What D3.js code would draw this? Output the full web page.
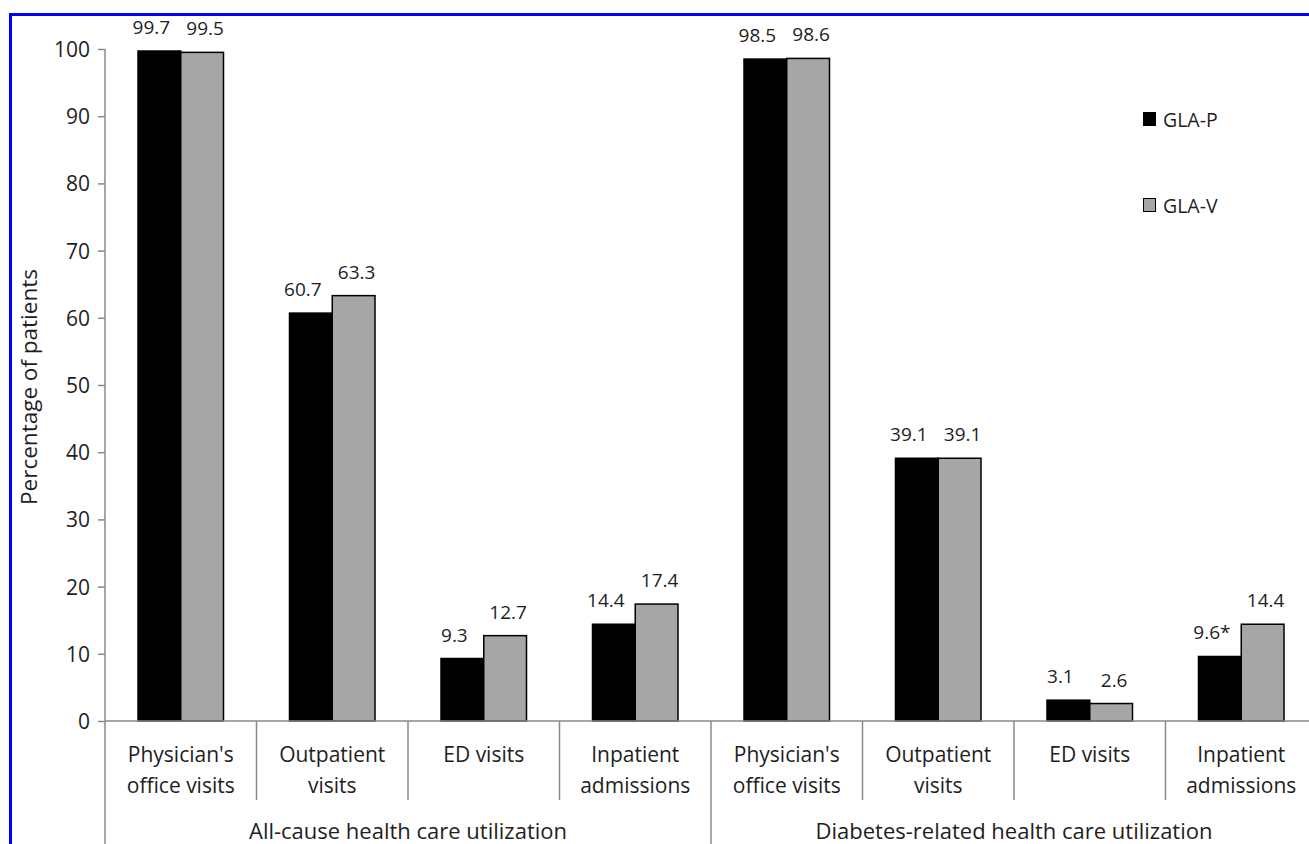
<!DOCTYPE html>
<html>
<head>
<meta charset="utf-8">
<script src="https://cdnjs.cloudflare.com/ajax/libs/d3/7.8.5/d3.min.js"></script>
<style>
  html, body { margin: 0; padding: 0; background: #fff; }
  svg { display: block; font-family: "Open Sans", Lato, sans-serif; }
</style>
</head>
<body>
<svg id="chart" width="1309" height="844"></svg>
<script>
// Health care utilization by category, two cohorts
const groups = ["All-cause health care utilization", "Diabetes-related health care utilization"];
const categories = [
  ["Physician's", "office visits"],
  ["Outpatient", "visits"],
  ["ED visits"],
  ["Inpatient", "admissions"]
];
const seriesNames = ["GLA-P", "GLA-V"];
const seriesColors = ["#000000", "#a6a6a6"];
// values per group, per category: [GLA-P, GLA-V]
const allCauseP = [99.7, 60.7, 9.3, 14.4];
const allCauseV = [99.5, 63.3, 12.7, 17.4];
const diabetesP = [98.5, 39.1, 3.1, 9.6];
const diabetesV = [98.6, 39.1, 2.6, 14.4];
// label suffix marks statistically significant difference
const diabetesPNotes = ["", "", "", "*"];
const yTicks = [0, 10, 20, 30, 40, 50, 60, 70, 80, 90, 100];

const rows = [];
[[allCauseP, allCauseV, ["", "", "", ""]], [diabetesP, diabetesV, diabetesPNotes]].forEach((g, gi) => {
  categories.forEach((c, ci) => {
    rows.push({
      key: gi + "-" + ci, group: gi, lines: c,
      values: [g[0][ci], g[1][ci]],
      notes: [g[2][ci], ""]
    });
  });
});

const svg = d3.select("#chart");
const plotLeft = 105, plotRight = 1317, plotTop = 49, plotBottom = 721;
const axisColor = "#8a8a8a", textColor = "#1e1e1e";

const x = d3.scaleBand().domain(rows.map(r => r.key)).range([plotLeft, plotRight]).paddingInner(0).paddingOuter(0);
const barPad = 33;
const xs = d3.scaleBand().domain([0, 1]).range([barPad, x.bandwidth() - barPad]).padding(0);
const y = d3.scaleLinear().domain([0, 100]).range([plotBottom, plotTop]);
// value labels nudged apart so neighbouring numbers don't crowd
const labelShift = [-8, 3];

// frame
svg.append("line").attr("x1", 10.5).attr("x2", 10.5).attr("y1", 13).attr("y2", 844)
  .attr("stroke", "#0000ff").attr("stroke-width", 3);
svg.append("line").attr("x1", 9).attr("x2", 1309).attr("y1", 14.5).attr("y2", 14.5)
  .attr("stroke", "#0000ff").attr("stroke-width", 3);

// y axis
const yAxis = svg.append("g").attr("transform", `translate(${plotLeft},0)`)
  .call(d3.axisLeft(y).tickValues(yTicks).tickSize(7).tickPadding(8));
yAxis.select(".domain").remove();
yAxis.selectAll(".tick line").attr("stroke", axisColor).attr("stroke-width", 1.5);
yAxis.selectAll(".tick text").attr("font-size", 21).attr("fill", textColor)
  .attr("font-family", "'Open Sans', sans-serif").attr("dy", "0.36em");
svg.append("line").attr("x1", plotLeft).attr("x2", plotLeft).attr("y1", plotTop).attr("y2", 844)
  .attr("stroke", axisColor).attr("stroke-width", 1.5);

// y title
svg.append("text").attr("transform", `translate(37,387) rotate(-90)`)
  .attr("text-anchor", "middle").attr("font-size", 22.5).attr("fill", textColor)
  .text("Percentage of patients");

// bars
const cat = svg.append("g").selectAll("g").data(rows).join("g")
  .attr("transform", d => `translate(${x(d.key)},0)`);
cat.selectAll("rect").data(d => d.values.map((v, i) => ({ v, i }))).join("rect")
  .attr("x", d => xs(d.i)).attr("width", xs.bandwidth())
  .attr("y", d => y(d.v)).attr("height", d => y(0) - y(d.v))
  .attr("fill", d => seriesColors[d.i]).attr("stroke", "#000").attr("stroke-width", 1.5);
cat.selectAll("text.val").data(d => d.values.map((v, i) => ({ v, i, note: d.notes[i] }))).join("text")
  .attr("class", "val")
  .attr("x", d => xs(d.i) + xs.bandwidth() / 2 + labelShift[d.i])
  .attr("y", d => y(d.v) - 17)
  .attr("text-anchor", "middle").attr("font-size", 19).attr("fill", textColor)
  .text(d => d.v.toFixed(1) + d.note);

// x axis baseline
svg.append("line").attr("x1", plotLeft).attr("x2", plotRight).attr("y1", plotBottom).attr("y2", plotBottom)
  .attr("stroke", axisColor).attr("stroke-width", 1.5);

// category separators
rows.forEach((r, i) => {
  if (i === 0) return;
  const xx = x(r.key);
  const isGroup = rows[i - 1].group !== r.group;
  svg.append("line").attr("x1", xx).attr("x2", xx).attr("y1", plotBottom)
    .attr("y2", isGroup ? 844 : 800).attr("stroke", axisColor).attr("stroke-width", 1.5);
});

// category labels
cat.append("text").attr("text-anchor", "middle").attr("font-size", 21).attr("fill", textColor)
  .selectAll("tspan").data(d => d.lines).join("tspan")
  .attr("x", x.bandwidth() / 2)
  .attr("y", (d, i) => 762 + i * 31)
  .text(d => d);

// group labels
groups.forEach((g, gi) => {
  const ks = rows.filter(r => r.group === gi);
  const x0 = x(ks[0].key), x1 = x(ks[ks.length - 1].key) + x.bandwidth();
  svg.append("text").attr("x", (x0 + x1) / 2).attr("y", 839)
    .attr("text-anchor", "middle").attr("font-size", 22).attr("fill", textColor).text(g);
});

// legend
const legend = svg.append("g").selectAll("g").data(seriesNames).join("g")
  .attr("transform", (d, i) => `translate(1143.5,${112.5 + i * 86})`);
legend.append("rect").attr("width", 12).attr("height", 13)
  .attr("fill", (d, i) => seriesColors[i]).attr("stroke", "#000").attr("stroke-width", 1);
legend.append("text").attr("x", 19.5).attr("y", 14).attr("font-size", 19.5).attr("fill", textColor).text(d => d);
</script>
</body>
</html>
